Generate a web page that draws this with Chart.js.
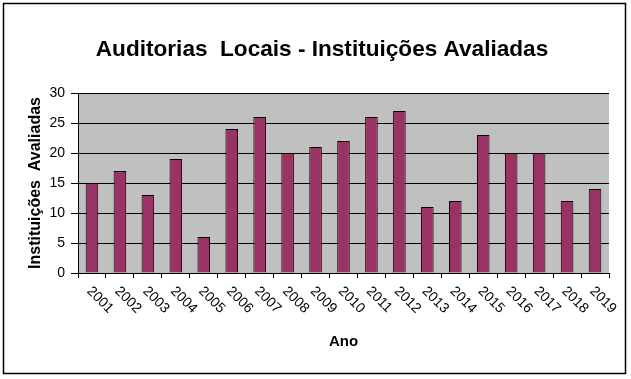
<!DOCTYPE html>
<html><head><meta charset="utf-8">
<script src="https://cdn.jsdelivr.net/npm/chart.js@4"></script>
<style>html,body{margin:0;padding:0;background:#fff;}canvas{display:block;}</style>
</head><body>
<canvas id="c" width="631" height="379"></canvas>
<script>
const years = ["2001","2002","2003","2004","2005","2006","2007","2008","2009","2010","2011","2012","2013","2014","2015","2016","2017","2018","2019"];
const instituicoes = [15,17,13,19,6,24,26,20,21,22,26,27,11,12,23,20,20,12,14];
const yTicks = [0,5,10,15,20,25,30];
const chartTitle = 'Auditorias  Locais - Instituições Avaliadas';
const FONT = "'Liberation Sans', Arial, sans-serif";

const decor = {
  id: 'decor',
  beforeDraw(chart) {
    const {ctx, chartArea: a} = chart;
    ctx.save();
    ctx.fillStyle = '#fff';
    ctx.fillRect(0, 0, chart.width, chart.height);
    ctx.fillStyle = '#C0C0C0';
    ctx.fillRect(a.left, a.top, a.right - a.left, a.bottom - a.top);
    ctx.strokeStyle = '#000';
    ctx.lineWidth = 1.5;
    ctx.strokeRect(3.5, 3.5, 622, 370);
    ctx.restore();
  },
  afterDraw(chart) {
    const {ctx} = chart;
    const xs = chart.scales.x;
    ctx.save();
    ctx.fillStyle = '#000';
    ctx.font = 'bold 22.6px ' + FONT;
    ctx.textAlign = 'center';
    ctx.textBaseline = 'middle';
    ctx.fillText(chartTitle, 322, 50);
    ctx.font = '14px ' + FONT;
    ctx.textAlign = 'left';
    years.forEach((lab, i) => {
      const x = xs.getPixelForValue(i);
      ctx.save();
      ctx.translate(x - 3, xs.top + 16);
      ctx.rotate(45 * Math.PI / 180);
      ctx.fillText(lab, 0, 0);
      ctx.restore();
    });
    ctx.restore();
  }
};

new Chart(document.getElementById('c'), {
  type: 'bar',
  data: {
    labels: years,
    datasets: [{
      data: instituicoes,
      backgroundColor: '#993366',
      borderColor: '#000',
      borderWidth: 1,
      barPercentage: 0.45,
      categoryPercentage: 1.0
    }]
  },
  options: {
    responsive: false,
    animation: false,
    layout: { padding: { left: 0, right: 22, top: 93, bottom: 0 } },
    plugins: {
      legend: { display: false },
      tooltip: { enabled: false },
      title: { display: false }
    },
    scales: {
      x: {
        offset: true,
        grid: { display: true, drawOnChartArea: false, drawTicks: true, tickLength: 5, color: '#000', offset: true },
        border: { display: true, color: '#000', width: 1 },
        ticks: { display: false },
        title: { display: true, text: 'Ano', color: '#000', font: { family: FONT, size: 15, weight: 'bold' }, padding: { top: 0, bottom: 28 } },
        afterFit(s) { s.height = 106; }
      },
      y: {
        min: 0, max: 30,
        afterBuildTicks(s) { s.ticks = yTicks.map(v => ({ value: v })); },
        grid: { color: '#000', lineWidth: 1, drawTicks: true, tickLength: 7 },
        border: { display: true, color: '#000', width: 1 },
        ticks: { color: '#000', font: { family: FONT, size: 14 }, padding: 6 },
        title: { display: true, text: 'Instituições  Avaliadas', color: '#000', font: { family: FONT, size: 16, weight: 'bold' }, padding: { top: 26, bottom: 0 } },
        afterFit(s) { s.width = 78; }
      }
    }
  },
  plugins: [decor]
});
</script>
</body></html>
